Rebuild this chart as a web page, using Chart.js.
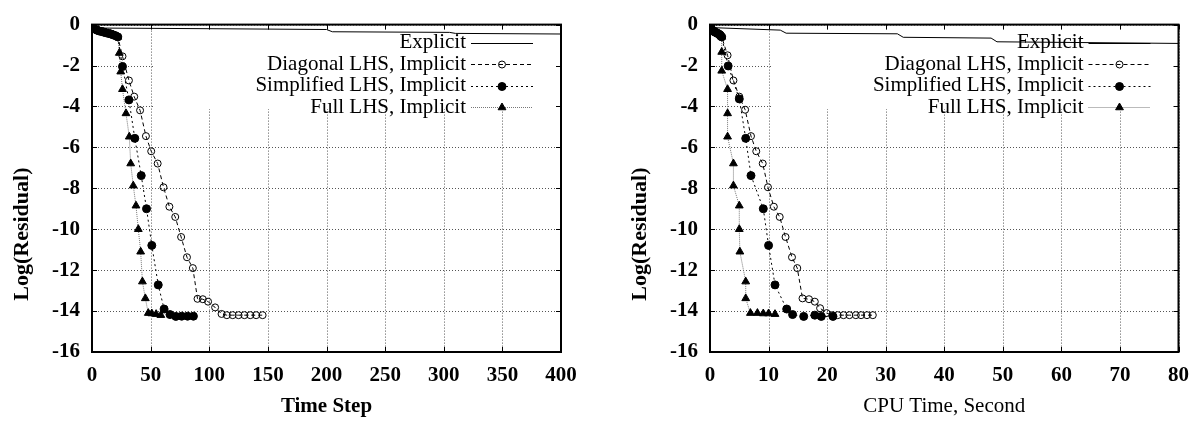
<!DOCTYPE html>
<html><head><meta charset="utf-8">
<script src="https://cdn.jsdelivr.net/npm/chart.js@4/dist/chart.umd.min.js"></script>
<style>
html,body{margin:0;padding:0;background:#fff;}
#wrap{position:relative;width:1200px;height:422px;overflow:hidden;}
canvas{position:absolute;top:0;}
</style></head><body>
<div id="wrap">
<canvas id="c1" width="600" height="422" style="left:0"></canvas>
<canvas id="c2" width="600" height="422" style="left:600px"></canvas>
</div>
<script>
// ---------- labels ----------
const seriesNames = ['Explicit', 'Diagonal LHS, Implicit', 'Simplified LHS, Implicit', 'Full LHS, Implicit'];
const yTicks = [0, -2, -4, -6, -8, -10, -12, -14, -16];
const stepTicks = [0, 50, 100, 150, 200, 250, 300, 350, 400];
const cpuTicks = [0, 10, 20, 30, 40, 50, 60, 70, 80];
const yTitle = 'Log(Residual)';
const stepTitle = 'Time Step';
const cpuTitle = 'CPU Time, Second';

// ---------- left plot: residual vs time step ----------
const stepExplicitX = [0, 3, 10, 100, 200, 205, 305, 310, 400];
const stepExplicitY = [0, -0.12, -0.17, -0.2, -0.24, -0.35, -0.38, -0.43, -0.46];
const stepStartX = [0, 2, 4, 6, 8, 10, 12, 14, 16, 18, 20, 22];
const stepStartY = [0, -0.2, -0.27, -0.31, -0.34, -0.37, -0.4, -0.43, -0.46, -0.5, -0.54, -0.6];
const stepDiagX = [26, 31.5, 36, 41, 46, 50.5, 56, 61, 66, 71, 76, 81, 86, 90, 94.5, 99, 105, 110.5, 115, 120, 125, 130, 135, 140, 145.5];
const stepDiagY = [-1.55, -2.73, -3.52, -4.19, -5.45, -6.19, -6.79, -7.95, -8.9, -9.4, -10.38, -11.37, -11.9, -13.4, -13.42, -13.54, -13.82, -14.14, -14.2, -14.2, -14.2, -14.2, -14.2, -14.2, -14.2];
const stepSimpX = [26, 31.5, 36.5, 42, 46.5, 51, 56.5, 61.5, 66.5, 71.5, 76.5, 81.5, 86.5];
const stepSimpY = [-2.05, -3.68, -5.56, -7.38, -9.0, -10.79, -12.72, -13.9, -14.17, -14.26, -14.25, -14.25, -14.25];
const stepFullX = [23.3, 24.5, 26, 29, 31.8, 33, 35.2, 37.5, 39.5, 41.5, 43, 45.5, 48, 51, 54.7, 58.7];
const stepFullY = [-1.39, -2.3, -3.16, -4.34, -5.48, -6.79, -7.87, -8.85, -10.0, -11.1, -12.56, -13.38, -14.1, -14.12, -14.15, -14.2];

// ---------- right plot: residual vs CPU time ----------
const cpuExplicitX = [0, 0.5, 12, 13, 32, 33, 48, 49, 80];
const cpuExplicitY = [0, -0.15, -0.27, -0.42, -0.45, -0.62, -0.66, -0.84, -0.92];
const cpuStartX = [0, 0.2, 0.4, 0.6, 0.7, 0.9, 1.1, 1.3, 1.5, 1.7, 1.8, 2.0];
const cpuStartY = [0, -0.2, -0.27, -0.31, -0.34, -0.37, -0.4, -0.43, -0.46, -0.5, -0.54, -0.6];
const cpuDiagX = [3.0, 4.0, 5.0, 6.0, 7.0, 7.9, 9.0, 9.9, 10.9, 11.9, 12.9, 14.0, 14.9, 15.8, 16.9, 17.9, 18.8, 19.9, 20.9, 21.8, 22.8, 23.8, 24.9, 25.8, 26.8, 27.8];
const cpuDiagY = [-1.5, -2.73, -3.52, -4.16, -5.45, -6.19, -6.79, -7.95, -8.9, -9.4, -10.38, -11.37, -11.9, -13.38, -13.42, -13.54, -13.86, -14.1, -14.2, -14.2, -14.2, -14.2, -14.2, -14.2, -14.2, -14.2];
const cpuSimpX = [3.1, 5.0, 6.1, 7.0, 9.1, 10.0, 11.1, 13.1, 14.1, 16.0, 17.9, 19.0, 21.0];
const cpuSimpY = [-2.02, -3.63, -5.56, -7.38, -9.0, -10.79, -12.72, -13.9, -14.17, -14.26, -14.2, -14.26, -14.26];
const cpuFullX = [2.0, 2.0, 3.0, 3.0, 3.0, 4.0, 4.0, 5.0, 5.0, 5.1, 6.1, 6.1, 6.9, 8.1, 9.1, 10.0, 11.1];
const cpuFullY = [-1.34, -2.26, -3.16, -4.34, -5.48, -6.79, -7.87, -8.85, -10.0, -11.1, -12.56, -13.38, -14.1, -14.1, -14.12, -14.12, -14.15];

// ---------- helpers ----------
const FONT = '"Liberation Serif", "Times New Roman", serif';
const pts = (xs, ys) => xs.map((x, i) => ({x: x, y: ys[i]}));

const styles = [
  {dash: [], color: '#000', pointStyle: false, radius: 0, fill: 'rgba(0,0,0,0)'},
  {dash: [4, 3], color: '#000', pointStyle: 'circle', radius: 3.5, fill: 'rgba(0,0,0,0)'},
  {dash: [2, 3], color: '#000', pointStyle: 'circle', radius: 4, fill: '#000'},
  {dash: [1, 1], color: '#777', pointStyle: 'triangle', radius: 4.5, fill: '#000'}
];

function makeDatasets(ex, diag, simp, full) {
  const dataArr = [ex, diag, simp, full];
  const orders = [0, 2, 1, 3];
  return dataArr.map((d, i) => ({
    label: seriesNames[i],
    data: d,
    borderColor: styles[i].color,
    borderWidth: 1,
    borderDash: styles[i].dash,
    pointStyle: styles[i].pointStyle,
    pointRadius: styles[i].radius,
    pointBorderColor: '#000',
    pointBackgroundColor: styles[i].fill,
    pointBorderWidth: 1,
    tension: 0,
    fill: false,
    order: orders[i]
  }));
}

const gnuplotFrame = {
  id: 'gnuplotFrame',
  beforeDatasetsDraw(chart) {
    const {ctx, chartArea: a, scales: {x, y}} = chart;
    ctx.save();
    ctx.strokeStyle = '#555';
    ctx.lineWidth = 1;
    ctx.setLineDash([1, 2]);
    x.ticks.forEach(t => {
      const px = Math.round(x.getPixelForValue(t.value)) + 0.5;
      ctx.beginPath(); ctx.moveTo(px, a.top); ctx.lineTo(px, a.bottom); ctx.stroke();
    });
    y.ticks.forEach(t => {
      const py = Math.round(y.getPixelForValue(t.value)) + 0.5;
      ctx.beginPath(); ctx.moveTo(a.left, py); ctx.lineTo(a.right, py); ctx.stroke();
    });
    ctx.setLineDash([]);
    ctx.fillStyle = '#fff';
    ctx.fillRect(a.right - 406, a.top + 1, 405, 108 - a.top);
    ctx.restore();
  },
  afterDatasetsDraw(chart) {
    const {ctx, chartArea: a} = chart;
    ctx.save();
    ctx.font = '21px ' + FONT;
    ctx.textAlign = 'right';
    ctx.textBaseline = 'middle';
    chart.data.datasets.forEach((ds, i) => {
      const yy = a.top + 18 + i * 21.5;
      ctx.fillStyle = '#000';
      ctx.fillText(ds.label, a.right - 95, yy);
      const st = styles[i];
      ctx.strokeStyle = st.color;
      ctx.lineWidth = 1;
      ctx.setLineDash(st.dash);
      ctx.beginPath();
      ctx.moveTo(a.right - 90, Math.round(yy) + 0.5);
      ctx.lineTo(a.right - 28, Math.round(yy) + 0.5);
      ctx.stroke();
      ctx.setLineDash([]);
      if (st.pointStyle) {
        ctx.fillStyle = st.fill;
        ctx.strokeStyle = '#000';
        Chart.helpers.drawPoint(ctx, {pointStyle: st.pointStyle, radius: st.radius, borderWidth: 1, rotation: 0}, a.right - 59, Math.round(yy) + 0.5);
      }
    });
    ctx.restore();
  },
  afterDraw(chart) {
    const {ctx, chartArea: a, scales: {x, y}} = chart;
    ctx.save();
    ctx.strokeStyle = '#000';
    ctx.lineWidth = 1;
    const L = 5;
    x.ticks.forEach(t => {
      const px = Math.round(x.getPixelForValue(t.value)) + 0.5;
      ctx.beginPath();
      ctx.moveTo(px, a.bottom); ctx.lineTo(px, a.bottom - L);
      ctx.moveTo(px, a.top); ctx.lineTo(px, a.top + L);
      ctx.stroke();
    });
    y.ticks.forEach(t => {
      const py = Math.round(y.getPixelForValue(t.value)) + 0.5;
      ctx.beginPath();
      ctx.moveTo(a.left, py); ctx.lineTo(a.left + L, py);
      ctx.moveTo(a.right, py); ctx.lineTo(a.right - L, py);
      ctx.stroke();
    });
    ctx.lineWidth = 2;
    ctx.strokeRect(a.left, a.top, a.right - a.left, a.bottom - a.top);
    // y-axis title (placed below centre, as in the original gnuplot output)
    const cy = a.top + (a.bottom - a.top) * 0.64;
    ctx.translate(a.left - 70, cy);
    ctx.rotate(-Math.PI / 2);
    ctx.font = 'bold 22px ' + FONT;
    ctx.fillStyle = '#000';
    ctx.textAlign = 'center';
    ctx.textBaseline = 'middle';
    ctx.fillText(yTitle, 0, 0);
    ctx.restore();
  }
};

function makeChart(id, cfg) {
  return new Chart(document.getElementById(id), {
    type: 'line',
    data: {datasets: cfg.datasets},
    options: {
      responsive: false,
      animation: false,
      events: [],
      layout: {padding: {top: 15, right: cfg.rightPad, left: 0, bottom: 0}},
      plugins: {legend: {display: false}, tooltip: {enabled: false}},
      scales: {
        x: {
          type: 'linear', min: cfg.xTicks[0], max: cfg.xTicks[cfg.xTicks.length - 1],
          afterBuildTicks: s => { s.ticks = cfg.xTicks.map(v => ({value: v})); },
          afterFit: s => { s.height = 70; },
          grid: {display: false, drawTicks: false},
          border: {display: false},
          ticks: {autoSkip: false, maxRotation: 0, padding: 11, color: '#000', font: {family: FONT, size: 21, weight: 'bold'}},
          title: {display: true, text: cfg.xTitle, color: '#000', padding: {top: 0, bottom: 3},
                  font: {family: FONT, size: 21, weight: cfg.xTitleBold ? 'bold' : 'normal'}}
        },
        y: {
          type: 'linear', min: -16, max: 0,
          afterBuildTicks: s => { s.ticks = yTicks.map(v => ({value: v})); },
          afterFit: s => { s.width = cfg.yWidth; },
          grid: {display: false, drawTicks: false},
          border: {display: false},
          ticks: {autoSkip: false, padding: 12, color: '#000', font: {family: FONT, size: 21, weight: 'bold'}},
          title: {display: false}
        }
      }
    },
    plugins: [gnuplotFrame]
  });
}

makeChart('c1', {
  xTicks: stepTicks, xTitle: stepTitle, xTitleBold: true, yWidth: 92, rightPad: 39,
  datasets: makeDatasets(
    pts(stepExplicitX, stepExplicitY),
    pts(stepStartX.concat(stepDiagX), stepStartY.concat(stepDiagY)),
    pts(stepStartX.concat(stepSimpX), stepStartY.concat(stepSimpY)),
    pts(stepStartX.concat(stepFullX), stepStartY.concat(stepFullY)))
});
makeChart('c2', {
  xTicks: cpuTicks, xTitle: cpuTitle, xTitleBold: false, yWidth: 110, rightPad: 20,
  datasets: makeDatasets(
    pts(cpuExplicitX, cpuExplicitY),
    pts(cpuStartX.concat(cpuDiagX), cpuStartY.concat(cpuDiagY)),
    pts(cpuStartX.concat(cpuSimpX), cpuStartY.concat(cpuSimpY)),
    pts(cpuStartX.concat(cpuFullX), cpuStartY.concat(cpuFullY)))
});
</script>
</body></html>
